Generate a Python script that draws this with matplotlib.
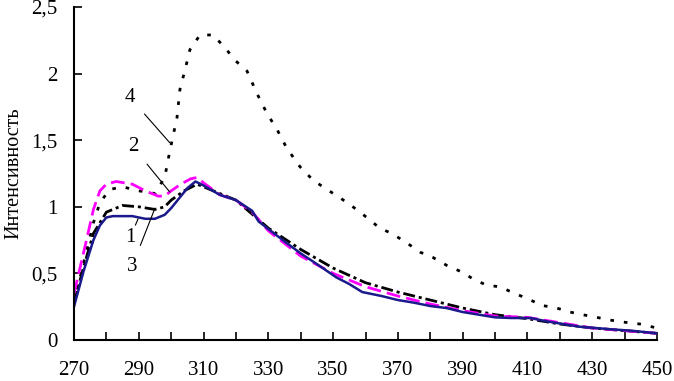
import matplotlib
matplotlib.use("Agg")
import matplotlib.pyplot as plt
import numpy as np

# wavelength (nm) and intensity of the four spectra
x1 = [270, 273, 276, 278, 280, 282, 288, 292, 295, 298, 300, 303, 305, 307.5, 310, 315, 320, 325,
      327, 335, 340, 345, 351, 355, 359, 365, 370, 375, 380, 385, 390, 395, 400, 405, 411, 416, 421,
      426, 431, 436, 442, 450]
y1 = [0.25, 0.52, 0.75, 0.86, 0.92, 0.93, 0.93, 0.91, 0.91, 0.94, 0.99, 1.08, 1.14, 1.19, 1.16, 1.09, 1.05, 0.97,
      0.89, 0.74, 0.65, 0.57, 0.47, 0.42, 0.36, 0.33, 0.30, 0.28, 0.255, 0.24, 0.21, 0.19, 0.17, 0.165, 0.165, 0.14, 0.12,
      0.10, 0.09, 0.08, 0.07, 0.05]

x2 = [270, 273, 276, 278, 280, 283, 288, 292, 296, 298, 300, 303, 306, 308, 310, 315, 320, 325,
      330, 340, 350, 360, 370, 380, 390, 400, 410, 420, 430, 440, 450]
y2 = [0.35, 0.66, 0.98, 1.12, 1.17, 1.19, 1.17, 1.12, 1.08, 1.08, 1.12, 1.17, 1.21, 1.22, 1.18, 1.09, 1.05, 0.96,
      0.82, 0.63, 0.50, 0.40, 0.33, 0.27, 0.22, 0.18, 0.17, 0.13, 0.09, 0.07, 0.05]

x3 = [270, 273, 276, 280, 285, 290, 295, 298, 300, 304, 308, 312, 320, 330, 340, 350, 360, 370,
      380, 390, 400, 410, 420, 430, 440, 450]
y3 = [0.28, 0.55, 0.80, 0.96, 1.01, 1.00, 0.98, 1.00, 1.05, 1.12, 1.17, 1.13, 1.05, 0.84, 0.68, 0.54, 0.43, 0.36,
      0.30, 0.24, 0.19, 0.16, 0.12, 0.09, 0.07, 0.05]

x4 = [270, 273, 276, 278, 281, 285, 290, 295, 298, 299.6, 301.8, 302.7, 304.3, 305.8, 308.9, 313,
      317.1, 319.7, 323.4, 326.5, 329.6, 332.7, 335.7, 339.8, 343.8, 348.1, 352, 356.1, 360.4, 364.4,
      368.1, 372.7, 376.8, 380.8, 385.1, 389.8, 393.1, 397.5, 401.5, 406, 410.1, 414.4, 419, 423.1,
      427, 431.4, 435.4, 439.4, 444.7, 450]
y4 = [0.28, 0.58, 0.88, 1.03, 1.13, 1.15, 1.12, 1.10, 1.22, 1.42, 1.67, 1.88, 2.03, 2.18, 2.29, 2.29,
      2.18, 2.10, 2.02, 1.85, 1.70, 1.58, 1.44, 1.30, 1.20, 1.13, 1.07, 1.00, 0.92, 0.84,
      0.80, 0.73, 0.66, 0.62, 0.56, 0.51, 0.46, 0.41, 0.40, 0.35, 0.31, 0.26, 0.24, 0.21,
      0.19, 0.17, 0.15, 0.135, 0.12, 0.09]

xticks = [270, 290, 310, 330, 350, 370, 390, 410, 430, 450]
yticks = [0, 0.5, 1, 1.5, 2, 2.5]
ytick_labels = ["0", "0,5", "1", "1,5", "2", "2,5"]

# curve labels: text position, arrow target
labels = [("4", (287.3, 1.82), (299.6, 1.48)),
          ("2", (288.2, 1.45), (299.6, 1.11)),
          ("1", (287.3, 0.77), (289.8, 0.91)),
          ("3", (287.9, 0.55), (295.0, 0.99))]

plt.rcParams['font.family'] = ['Liberation Serif', 'DejaVu Serif']

fig = plt.figure(figsize=(6.74, 3.81), dpi=100)
ax = fig.add_axes([74 / 674, 1 - 340 / 381, 583 / 674, 333 / 381])

ax.plot(x4, y4, color='black', lw=2, dashes=(1.3, 3.6))
ax.plot(x3, y3, color='black', lw=2, dashes=(4.3, 1.4, 1.1, 1.4))
ax.plot(x2, y2, color='#ff00ff', lw=2, dashes=(5, 2.2))
ax.plot(x1, y1, color='#1a1a8c', lw=1.8)

for txt, (tx, ty), (px, py) in labels:
    ax.annotate(txt, xy=(px, py), xytext=(tx, ty), fontsize=15, ha='center', va='center',
                arrowprops=dict(arrowstyle='-', color='black', lw=0.8, shrinkA=7, shrinkB=0))

ax.set_xlim(270, 450)
ax.set_ylim(0, 2.5)
ax.set_xticks(xticks)
ax.set_xticks(np.arange(280, 450, 20), minor=True)
ax.set_yticks(yticks)
ax.set_yticklabels(ytick_labels)
ax.tick_params(axis='x', which='both', direction='in', length=6, width=1.2, labelsize=15, pad=15)
ax.tick_params(axis='y', direction='in', length=6, width=1.2, labelsize=15, pad=12)
ax.spines[['top', 'right']].set_visible(False)
ax.spines['left'].set_linewidth(1.5)
ax.spines['bottom'].set_linewidth(1.5)
ax.set_ylabel('Интенсивность', fontsize=14.5)
ax.yaxis.set_label_coords(-0.086, 0.5)

fig.savefig('out.png', dpi=100)
